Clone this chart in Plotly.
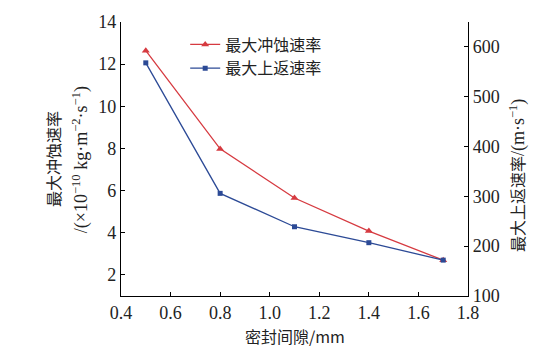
import plotly.graph_objects as go

gap = [0.5, 0.8, 1.1, 1.4, 1.7]
erosion = [12.64, 7.98, 5.65, 4.08, 2.70]
upflow = [568, 306, 239, 207, 172]

FONT = "Liberation Serif"
CJK = "Noto Sans CJK SC"
RED = "#d63a40"
BLUE = "#2c4a96"
TXT = "#222222"

fig = go.Figure()
fig.add_trace(go.Scatter(x=gap, y=erosion, name="最大冲蚀速率", mode="lines+markers",
                         line=dict(color=RED, width=1.3),
                         marker=dict(symbol="triangle-up", size=7, color=RED)))
fig.add_trace(go.Scatter(x=gap, y=upflow, name="最大上返速率", mode="lines+markers", yaxis="y2",
                         line=dict(color=BLUE, width=1.3),
                         marker=dict(symbol="square", size=5, color=BLUE)))

fig.update_layout(
    width=560, height=352,
    margin=dict(l=121, r=92, t=20, b=56),
    paper_bgcolor="white", plot_bgcolor="white",
    font=dict(family=FONT, size=18, color=TXT),
    yaxis2=dict(overlaying="y", side="right"),
    showlegend=True,
    legend=dict(x=0.185, y=0.98, xanchor="left", yanchor="top", bgcolor="rgba(0,0,0,0)",
                font=dict(family=CJK, size=16, color=TXT), tracegroupgap=0, itemwidth=30),
)
for upd in (fig.update_xaxes, fig.update_yaxes):
    upd(showline=True, linecolor="black", linewidth=1.2, ticks="inside", ticklen=4,
        tickcolor="black", showgrid=False, zeroline=False,
        tickfont_family=FONT, tickfont_size=18, tickfont_color=TXT)
fig.update_xaxes(range=[0.4, 1.8], dtick=0.2, tick0=0.4, tickformat=".1f")
fig.update_layout(yaxis=dict(range=[1, 14], dtick=2, tick0=0),
                  yaxis2=dict(range=[100, 650], dtick=100, tick0=100))

fig.add_annotation(text="密封间隙/mm", xref="paper", yref="paper", x=0.5, y=-0.145,
                   xanchor="center", yanchor="middle", showarrow=False,
                   font=dict(family=CJK, size=16, color=TXT))
fig.add_annotation(text="最大冲蚀速率", xref="paper", yref="paper", x=-0.196, y=0.5,
                   xanchor="center", yanchor="middle", textangle=-90, showarrow=False,
                   font=dict(family=CJK, size=16, color=TXT))
fig.add_annotation(text="/(×10<sup>−10</sup> kg·m<sup>−2</sup>·s<sup>−1</sup>)", xref="paper", yref="paper",
                   x=-0.117, y=0.497, xanchor="center", yanchor="middle", textangle=-90, showarrow=False,
                   font=dict(family=FONT, size=18, color=TXT))
fig.add_annotation(text="最大上返速率<span style='font-family:Liberation Serif;font-size:18px'>/(m·s<sup>−1</sup>)</span>",
                   xref="paper", yref="paper", x=1.143, y=0.44,
                   xanchor="center", yanchor="middle", textangle=-90, showarrow=False,
                   font=dict(family=CJK, size=16, color=TXT))

fig.write_html("out.html")
